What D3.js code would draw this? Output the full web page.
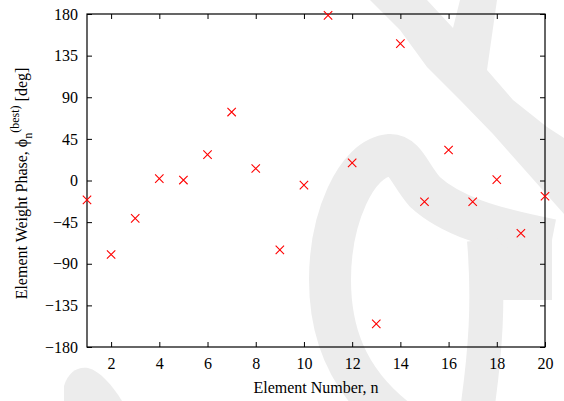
<!DOCTYPE html>
<html>
<head>
<meta charset="utf-8">
<script src="https://cdn.jsdelivr.net/npm/d3@7"></script>
<style>
  body { margin: 0; background: #fff; }
  svg, svg text { font-family: "Liberation Serif", "Times New Roman", serif; }
</style>
</head>
<body>
<div id="chart"></div>
<script>
// element number and best phase (deg)
const elements = [1, 2, 3, 4, 5, 6, 7, 8, 9, 10, 11, 12, 13, 14, 15, 16, 17, 18, 19, 20]
const phases = [-21, -80, -41, 2, 0.5, 28, 74, 13, -75, -5, 178.5, 19, -155, 148, -23, 33, -23, 1, -57, -17]

const xTicks = [2, 4, 6, 8, 10, 12, 14, 16, 18, 20]
const yTicks = [-180, -135, -90, -45, 0, 45, 90, 135, 180]

const width = 564
const height = 401
const margin = { top: 14, right: 19, bottom: 54, left: 87 }

const xScale = d3.scaleLinear()
	.domain([1, 20])
	.range([margin.left, width - margin.right])

const yScale = d3.scaleLinear()
	.domain([-180, 180])
	.range([height - margin.bottom, margin.top])

const svg = d3.select('#chart')
	.append('svg')
	.attr('width', width)
	.attr('height', height)

// faint watermark in the background (decoration only)
const mark = svg.append('g').attr('fill', '#ececec').attr('stroke', '#ececec')
mark.append('path')
	.attr('stroke', 'none')
	.attr('d', 'M370,0 L427,0 L453,28 L460,0 L497,0 L487,70 L513,100 L547,127 L564,138 L564,214 L493,134 L460,100 L427,67 L400,30 Z')
mark.append('path')
	.attr('fill', 'none')
	.attr('stroke-width', 42)
	.attr('d', 'M395,418 C345,378 330,330 330,280 C330,220 355,158 390,155 C405,155 410,175 425,192 C450,215 490,228 552,240')
mark.append('path')
	.attr('fill', 'none')
	.attr('stroke-width', 34)
	.attr('d', 'M484,240 C489,300 486,350 476,418')
mark.append('path')
	.attr('stroke', 'none')
	.attr('d', 'M495,250 L552,238 L552,300 L495,300 Z')
mark.append('path')
	.attr('stroke', 'none')
	.attr('d', 'M64,401 L64,386 C68,372 78,366 88,368 C100,371 112,385 122,401 Z')

const plotH = height - margin.bottom - margin.top
const plotW = width - margin.right - margin.left

const xAxis = d3.axisBottom(xScale).tickValues(xTicks).tickSizeInner(-5).tickSizeOuter(0).tickPadding(11)
const xAxisTop = d3.axisTop(xScale).tickValues(xTicks).tickSizeInner(-5).tickSizeOuter(0).tickFormat('')
const yAxis = d3.axisLeft(yScale).tickValues(yTicks).tickSizeInner(-5).tickSizeOuter(0).tickPadding(9)
const yAxisRight = d3.axisRight(yScale).tickValues(yTicks).tickSizeInner(-5).tickSizeOuter(0).tickFormat('')

function styleAxis(g) {
	g.attr('font-family', '"Liberation Serif", serif').attr('font-size', 16)
	g.select('.domain').remove()
	g.selectAll('line').attr('stroke', '#000').attr('stroke-width', 1)
	g.selectAll('text').attr('fill', '#000')
}

svg.append('g')
	.attr('transform', `translate(0 ${height - margin.bottom})`)
	.call(xAxis)
	.call(styleAxis)

svg.append('g')
	.attr('transform', `translate(0 ${margin.top})`)
	.call(xAxisTop)
	.call(styleAxis)

svg.append('g')
	.attr('transform', `translate(${margin.left} 0)`)
	.call(yAxis)
	.call(styleAxis)

svg.append('g')
	.attr('transform', `translate(${width - margin.right} 0)`)
	.call(yAxisRight)
	.call(styleAxis)

svg.append('rect')
	.attr('x', margin.left)
	.attr('y', margin.top)
	.attr('width', plotW)
	.attr('height', plotH)
	.attr('fill', 'none')
	.attr('stroke', '#000')
	.attr('stroke-width', 1.2)

// red x markers
const s = 4.2
svg.append('g')
	.selectAll('path')
	.data(elements.map((n, i) => ({ n: n, phase: phases[i] })))
	.join('path')
	.attr('transform', d => `translate(${xScale(d.n)} ${yScale(d.phase)})`)
	.attr('d', `M${-s},${-s}L${s},${s}M${-s},${s}L${s},${-s}`)
	.attr('stroke', '#ff0000')
	.attr('stroke-width', 1.1)
	.attr('fill', 'none')

svg.append('text')
	.attr('x', (margin.left + width - margin.right) / 2)
	.attr('y', 393)
	.attr('text-anchor', 'middle')
	.attr('font-size', 16)
	.text('Element Number, n')

const yLabel = svg.append('text')
	.attr('transform', `translate(27 ${(margin.top + height - margin.bottom) / 2 + 3}) rotate(-90)`)
	.attr('text-anchor', 'middle')
	.attr('font-size', 16)
yLabel.append('tspan').text('Element Weight Phase, ϕ')
yLabel.append('tspan').attr('dy', 5).attr('font-size', 12).text('n')
yLabel.append('tspan').attr('dy', -13).attr('font-size', 12).text('(best)')
yLabel.append('tspan').attr('dy', 8).text(' [deg]')
</script>
</body>
</html>
